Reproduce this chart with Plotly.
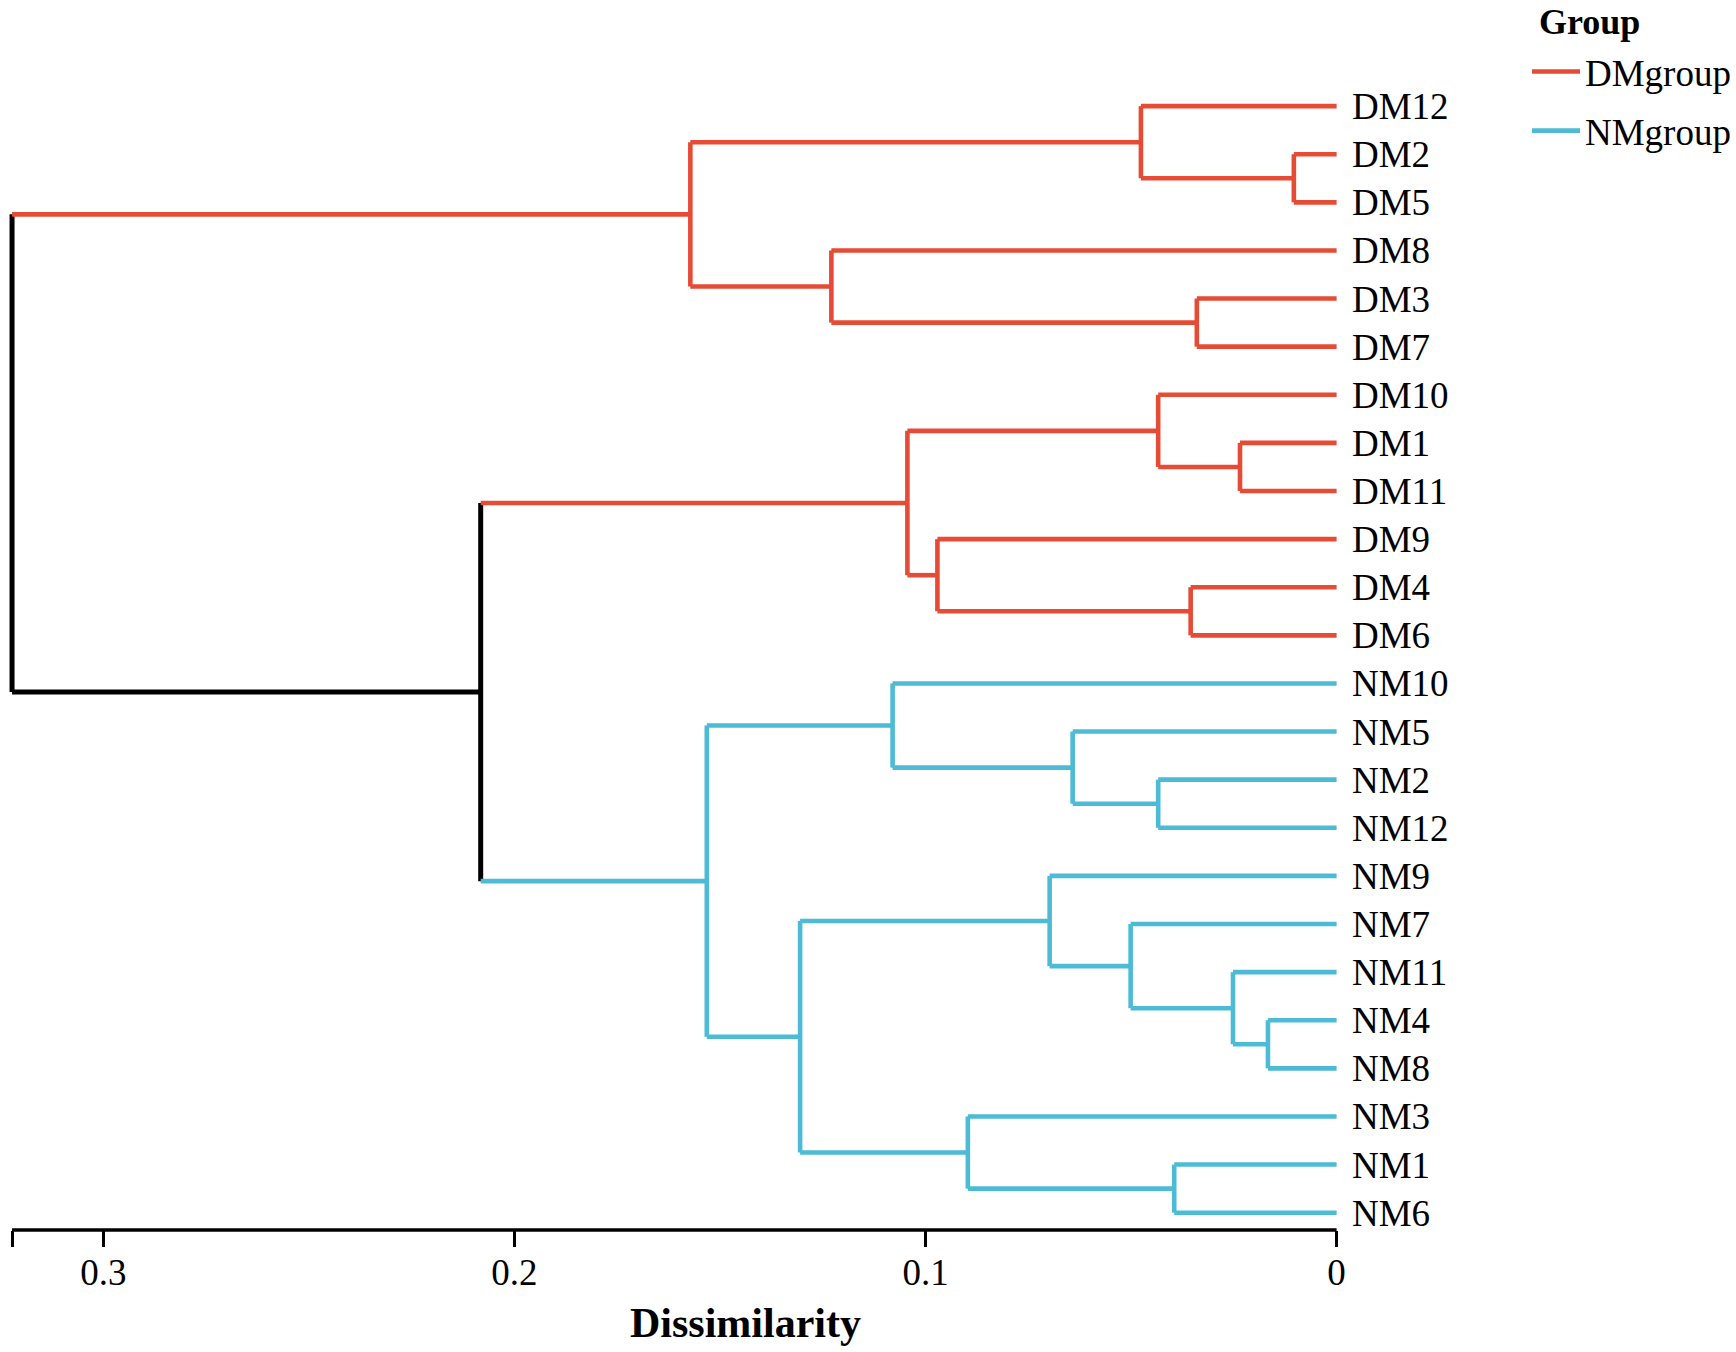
import plotly.graph_objects as go

# ---------------- data ----------------
leaves = ["DM12", "DM2", "DM5", "DM8", "DM3", "DM7", "DM10", "DM1", "DM11", "DM9", "DM4", "DM6",
          "NM10", "NM5", "NM2", "NM12", "NM9", "NM7", "NM11", "NM4", "NM8", "NM3", "NM1", "NM6"]
leaf_group = ["DMgroup"] * 12 + ["NMgroup"] * 12

merge_name = ["c1", "c2", "c3", "c4", "c5", "c6", "c7", "c8", "c9", "c10",
              "n1", "n2", "n3", "n4", "n5", "n6", "n7", "n8", "n9", "n10", "n11",
              "m1", "root"]
merge_left = ["DM2", "DM12", "DM3", "DM8", "c2", "DM1", "DM10", "DM4", "DM9", "c7",
              "NM2", "NM5", "NM10", "NM4", "NM11", "NM7", "NM9", "NM1", "NM3", "n7", "n3",
              "c10", "c5"]
merge_right = ["DM5", "c1", "DM7", "c3", "c4", "DM11", "c6", "DM6", "c8", "c9",
               "NM12", "n1", "n2", "NM8", "n4", "n5", "n6", "NM6", "n8", "n9", "n10",
               "n11", "m1"]
merge_height = [0.0104, 0.0476, 0.0340, 0.1229, 0.1572, 0.0235, 0.0434, 0.0355, 0.0971, 0.1044,
                0.0434, 0.0642, 0.1080, 0.0167, 0.0252, 0.0501, 0.0698, 0.0395, 0.0897, 0.1305, 0.1532,
                0.2082, 0.3222]
merge_group = ["DMgroup"] * 10 + ["NMgroup"] * 11 + ["", ""]

tick_vals = [0.3, 0.2, 0.1, 0.0]
tick_text = ["0.3", "0.2", "0.1", "0"]

group_names = ["DMgroup", "NMgroup"]
group_colors = {"DMgroup": "#E64B35", "NMgroup": "#4DBBD5", "": "#000000"}

# ---------------- layout of the tree ----------------
ypos, hgt, grp = {}, {}, {}
for i, (lf, g) in enumerate(zip(leaves, leaf_group)):
    ypos[lf] = i
    hgt[lf] = 0.0
    grp[lf] = g
for nm, l, r, h, g in zip(merge_name, merge_left, merge_right, merge_height, merge_group):
    ypos[nm] = (ypos[l] + ypos[r]) / 2
    hgt[nm] = h
    grp[nm] = g

segs = {"DMgroup": ([], []), "NMgroup": ([], []), "": ([], [])}
for nm, l, r in zip(merge_name, merge_left, merge_right):
    h = hgt[nm]
    xs, ys = segs[grp[nm]]
    xs += [h, h, None]
    ys += [ypos[l], ypos[r], None]
    for ch in (l, r):
        xs, ys = segs[grp[ch]]
        xs += [hgt[ch], h, None]
        ys += [ypos[ch], ypos[ch], None]

root_h = max(merge_height)

# ---------------- figure geometry ----------------
W, H = 1736, 1352
px_zero = 1336.6          # pixel of x = 0
px_per_unit = 4111.0
ml, mr = 4, W - 1344
mt, mb = 58, 122
PW, PH = W - ml - mr, H - mt - mb
x_range = [(px_zero - ml) / px_per_unit, -((W - mr) - px_zero) / px_per_unit]
n = len(leaves)
y_range = [23.36, -1.0]


def px_x(p):
    return (p - ml) / PW


def px_y(p):
    return (H - mb - p) / PH


FONT = "Liberation Serif"

fig = go.Figure()
fig.add_trace(go.Scatter(x=segs[""][0], y=segs[""][1], mode="lines",
                         line=dict(color=group_colors[""], width=5),
                         showlegend=False, hoverinfo="skip"))
for g in group_names:
    fig.add_trace(go.Scatter(x=segs[g][0], y=segs[g][1], mode="lines", name=g,
                             legendgroup=g,
                             line=dict(color=group_colors[g], width=4.6),
                             hoverinfo="skip"))

# axis line restricted to the data span
fig.add_shape(type="line", xref="x", yref="paper", x0=root_h, x1=0, y0=0, y1=0,
              line=dict(color="black", width=3.5))

fig.update_layout(
    width=W, height=H,
    margin=dict(l=ml, r=mr, t=mt, b=mb, autoexpand=False),
    plot_bgcolor="white", paper_bgcolor="white",
    font=dict(family=FONT, color="black", size=37),
    xaxis=dict(range=x_range, showgrid=False, zeroline=False, showline=False,
               tickmode="array", tickvals=[root_h] + tick_vals, ticktext=[""] + tick_text,
               ticks="outside", ticklen=16, tickwidth=3.3, tickcolor="black",
               ticklabelstandoff=-6,
               tickfont=dict(family=FONT, size=37, color="black")),
    yaxis=dict(range=y_range, showgrid=False, zeroline=False, showline=False,
               side="right", tickmode="array", tickvals=list(range(n)), ticktext=leaves,
               ticks="", ticklabelstandoff=7,
               tickfont=dict(family=FONT, size=37, color="black")),
    legend=dict(xref="container", yref="container", x=1527 / W, y=1 - 41 / H,
                xanchor="left", yanchor="top", bgcolor="rgba(0,0,0,0)",
                font=dict(family=FONT, size=37), itemwidth=48, tracegroupgap=8),
    showlegend=True,
)

# legend heading
fig.add_annotation(text="<b>Group</b>", xref="paper", yref="paper",
                   x=px_x(1537), y=px_y(0), xanchor="left", yanchor="top",
                   showarrow=False, font=dict(family=FONT, size=36, color="black"))

fig.add_annotation(text="<b>Dissimilarity</b>", xref="paper", yref="paper",
                   x=px_x(745), y=px_y(1348),
                   xanchor="center", yanchor="bottom", showarrow=False,
                   font=dict(family=FONT, size=42, color="black"))

fig.write_html("out.html", config={"displayModeBar": False},
               post_script="document.body.style.margin='0px';")
